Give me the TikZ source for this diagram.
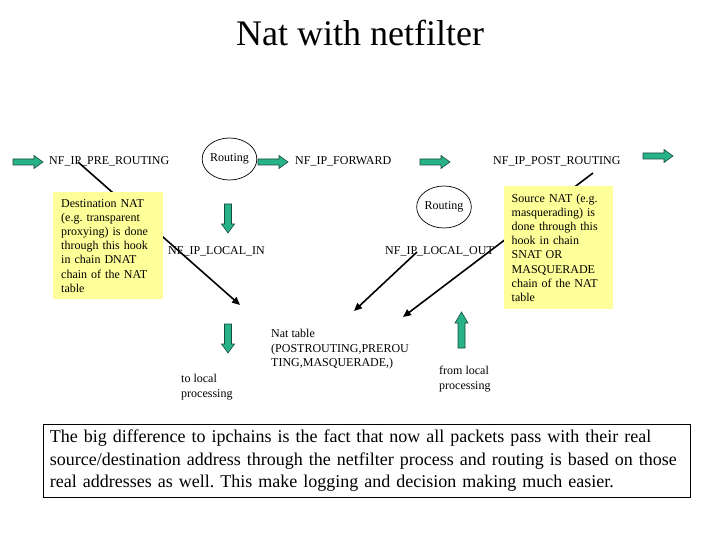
\documentclass[tikz,border=0pt]{standalone}
\usepackage{fontspec}
\setmainfont{Liberation Serif}
\usetikzlibrary{arrows.meta,shapes.geometric}
\definecolor{blkgreen}{RGB}{40,178,135}
\definecolor{blkedge}{RGB}{25,75,60}
\definecolor{noteyellow}{RGB}{255,255,153}
\frenchspacing
\begin{document}
\begin{tikzpicture}[x=1bp,y=-1bp,
  lbl/.style={font=\fontsize{12bp}{14.2bp}\selectfont, inner sep=0pt, anchor=base west},
  mlbl/.style={font=\fontsize{12bp}{14.5bp}\selectfont, inner sep=0pt, anchor=north west, align=left},
  note/.style={fill=noteyellow, draw=none, font=\fontsize{12bp}{14.2bp}\selectfont, align=left, text width=94bp, inner xsep=7.5bp, inner ysep=0pt, anchor=north west},
  route/.style={ellipse, draw, line width=0.7bp, inner sep=0pt, font=\fontsize{12bp}{14bp}\selectfont},
  conn/.style={line width=1.6bp, -{Triangle[length=8bp,width=7bp]}},
  blk/.style={fill=blkgreen, draw=blkedge, line width=0.6bp, line join=miter},
  rblk/.pic={\filldraw[blk] (0,-3)--(21,-3)--(21,-6.5)--(30,0)--(21,6.5)--(21,3)--(0,3)--cycle;},
  dblk/.pic={\filldraw[blk] (-3.5,0)--(3.5,0)--(3.5,20)--(6.5,20)--(0,29)--(-6.5,20)--(-3.5,20)--cycle;},
  ublk/.pic={\filldraw[blk] (-3.5,0)--(3.5,0)--(3.5,-25)--(6.5,-25)--(0,-36)--(-6.5,-25)--(-3.5,-25)--cycle;}
]
\useasboundingbox[fill=white] (0,0) rectangle (720,540);

% title
\node[font=\fontsize{36bp}{40bp}\selectfont, inner sep=0pt, anchor=base] (title) at (360,46) {Nat with netfilter};

% green block arrows
\pic at (13,162) {rblk};
\pic at (258,162) {rblk};
\pic at (420,162) {rblk};
\pic at (643,156) {rblk};
\pic at (228,204) {dblk};
\pic at (228,324) {dblk};
\pic at (461.5,348) {ublk};

% routing ellipses
\node[route, minimum width=51bp, minimum height=42bp] (route1) at (229.5,159) {Routing};
\node[route, minimum width=48bp, minimum height=42bp] (route2) at (444,207) {Routing};

% hook labels
\node[lbl] (pre) at (49,165) {NF\_IP\_PRE\_ROUTING};
\node[lbl] (fwd) at (295,165) {NF\_IP\_FORWARD};
\node[lbl] (post) at (493,165) {NF\_IP\_POST\_ROUTING};
\node[lbl] (lin) at (168,255) {NF\_IP\_LOCAL\_IN};
\node[lbl] (lout) at (385,255) {NF\_IP\_LOCAL\_OUT};

% connector end points
\coordinate (c1s) at (78,162);
\coordinate (c1e) at (240,305);
\coordinate (c2s) at (417,252);
\coordinate (c2e) at (354,311);
\coordinate (c3s) at (593,173);
\coordinate (c3e) at (403,317);
\draw[conn] (c1s) -- (c1e);
\draw[conn] (c2s) -- (c2e);
\draw[conn] (c3s) -- (c3e);

% yellow notes (drawn over the connectors)
\node[note, minimum width=110bp, minimum height=107bp] (dnat) at (53,192)
  {Destination NAT\\(e.g. transparent\\proxying) is done\\through this hook\\in chain DNAT\\chain of the NAT\\table};
\node[note, minimum width=108bp, minimum height=123bp] (snat) at (504,186)
  {Source NAT (e.g.\\masquerading) is\\done through this\\hook in chain\\SNAT OR\\MASQUERADE\\chain of the NAT\\table};

% lower labels
\node[mlbl] (natt) at (271,329) {Nat table\\(POSTROUTING,PREROU\\TING,MASQUERADE,)};
\node[mlbl] (tolocal) at (181,374) {to local\\processing};
\node[mlbl] (fromlocal) at (439,366) {from local\\processing};

% summary box
\node[draw, line width=0.8bp, anchor=north west, minimum width=647bp, minimum height=73bp,
      text width=634bp, inner xsep=6.5bp, inner ysep=0pt, align=left,
      font=\fontsize{18bp}{22.5bp}\selectfont] (summary) at (43,424)
  {The big difference to ipchains is the fact that now all packets pass with their real\\source/destination address through the netfilter process and routing is based on those\\real addresses as well. This make logging and decision making much easier.};
\end{tikzpicture}
\end{document}
